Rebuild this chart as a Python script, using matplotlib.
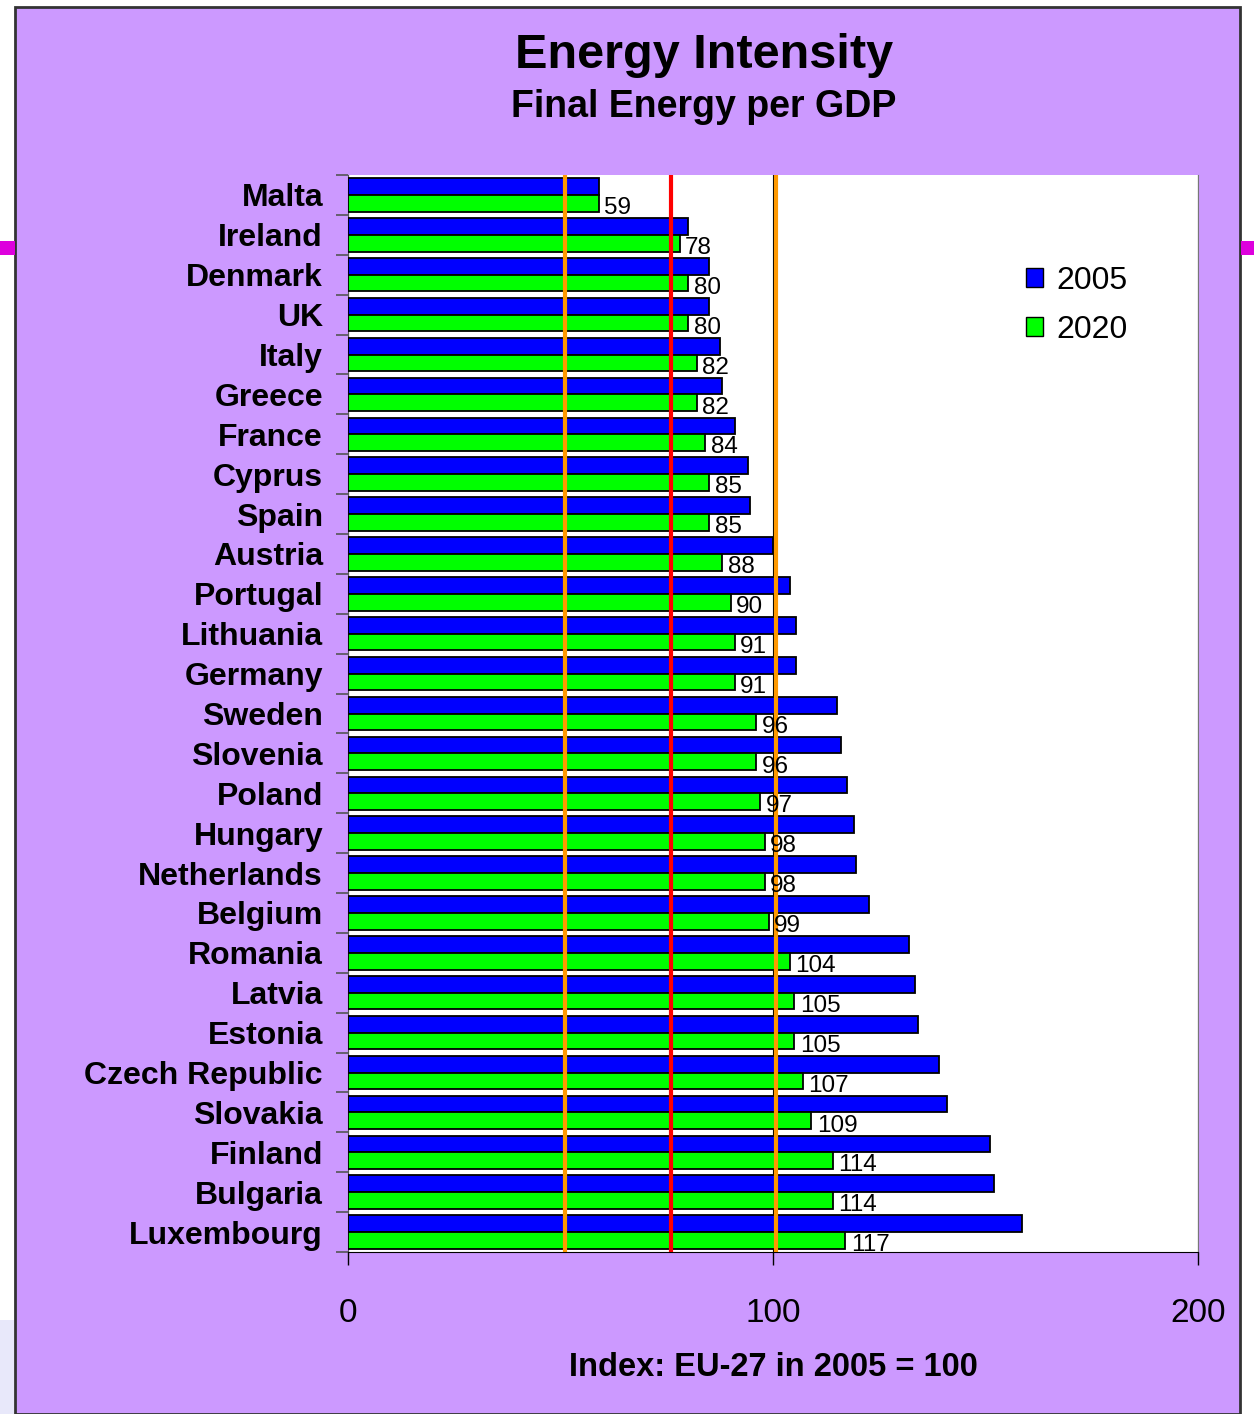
import matplotlib
matplotlib.use('Agg')
import matplotlib.pyplot as plt
from matplotlib.patches import Rectangle, Patch
import numpy as np

plt.rcParams['font.family'] = ['Liberation Sans', 'DejaVu Sans']

countries = ['Malta', 'Ireland', 'Denmark', 'UK', 'Italy', 'Greece', 'France', 'Cyprus', 'Spain',
             'Austria', 'Portugal', 'Lithuania', 'Germany', 'Sweden', 'Slovenia', 'Poland', 'Hungary',
             'Netherlands', 'Belgium', 'Romania', 'Latvia', 'Estonia', 'Czech Republic', 'Slovakia',
             'Finland', 'Bulgaria', 'Luxembourg']
val_2005 = [59, 80, 85, 85, 87.5, 88, 91, 94, 94.5, 100, 104, 105.5, 105.5, 115, 116, 117.5, 119,
            119.5, 122.5, 132, 133.5, 134, 139, 141, 151, 152, 158.5]
val_2020 = [59, 78, 80, 80, 82, 82, 84, 85, 85, 88, 90, 91, 91, 96, 96, 97, 98, 98, 99, 104, 105,
            105, 107, 109, 114, 114, 117]
ref_lines = [51, 76, 100.7]
ref_colors = ['#FF9900', '#FF0000', '#FF9900']
xticks = [0, 100, 200]

purple = '#CC99FF'
W, H = 1254, 1414

fig = plt.figure(figsize=(W / 100, H / 100), dpi=100)
fig.patch.set_facecolor('white')

# slide panel and the bits around it
fig.patches.append(Rectangle((15 / W, 0), (1240 - 15) / W, (H - 7) / H, transform=fig.transFigure,
                             facecolor=purple, edgecolor='#333333', linewidth=2, zorder=-2))
fig.patches.append(Rectangle((0, 1 - 255 / H), 15 / W, 14 / H, transform=fig.transFigure,
                             facecolor='#DD00DD', edgecolor='none', zorder=-2))
fig.patches.append(Rectangle((1241 / W, 1 - 255 / H), 13 / W, 14 / H, transform=fig.transFigure,
                             facecolor='#DD00DD', edgecolor='none', zorder=-2))
fig.patches.append(Rectangle((0, 0), 14 / W, 94 / H, transform=fig.transFigure,
                             facecolor='#E8E8FA', edgecolor='none', zorder=-2))

ax = fig.add_axes([348 / W, 1 - 1252 / H, (1198 - 348) / W, (1252 - 175) / H])
ax.set_zorder(1)
ax.set_facecolor('white')

y = np.arange(len(countries))
h = 0.42
ax.barh(y - h / 2, val_2005, height=h, color='#0000FF', edgecolor='black', linewidth=1.3,
        label='2005', zorder=3)
ax.barh(y + h / 2, val_2020, height=h, color='#00FF00', edgecolor='black', linewidth=1.3,
        label='2020', zorder=3)

for yi, v in zip(y, val_2020):
    ax.text(v + 1.3, yi + h / 2 + 0.12, f'{v:g}', ha='left', va='center', fontsize=17.5,
            family=['Liberation Sans Narrow', 'Liberation Sans'], zorder=5)

for xv, c in zip(ref_lines, ref_colors):
    ax.axvline(xv, color=c, linewidth=3, zorder=4)

ax.set_xlim(0, 200)
ax.set_ylim(len(countries) - 0.5, -0.5)
ax.set_xticks(xticks)
ax.set_xticklabels([str(t) for t in xticks], fontsize=24)
ax.tick_params(axis='x', direction='out', length=9, width=1, pad=24, colors='black')
ax.xaxis.grid(True, color='black', linewidth=0.8, zorder=1)
ax.set_axisbelow(True)

ax.set_yticks(y)
ax.set_yticklabels(countries, fontsize=23, fontweight='bold')
ax.tick_params(axis='y', length=0, pad=18)
ax.set_yticks(np.arange(len(countries) + 1) - 0.5, minor=True)
ax.tick_params(axis='y', which='minor', direction='out', length=9, width=1.2, color='#555555')

ax.spines['top'].set_visible(False)
ax.spines['left'].set_color('#555555')
ax.spines['right'].set_color('#777777')
ax.spines['bottom'].set_color('black')

handles = [Patch(facecolor='#0000FF', edgecolor='black', label='2005'),
           Patch(facecolor='#00FF00', edgecolor='black', label='2020')]
fig.legend(handles=handles, loc='upper left', bbox_to_anchor=(997 / W, 1 - 237 / H),
           frameon=False, fontsize=23, handlelength=0.55, handleheight=0.55, handletextpad=0.4,
           labelspacing=0.6)

fig.text(704 / W, 1 - 56 / H, 'Energy Intensity', ha='center', va='center', fontsize=35,
         fontweight='bold')
fig.text(704 / W, 1 - 107 / H, 'Final Energy per GDP', ha='center', va='center', fontsize=27,
         fontweight='bold')
fig.text(773 / W, 1 - 1368 / H, 'Index: EU-27 in 2005 = 100', ha='center', va='center',
         fontsize=23.5, fontweight='bold')

fig.savefig('out.png', dpi=100, facecolor=fig.get_facecolor())
